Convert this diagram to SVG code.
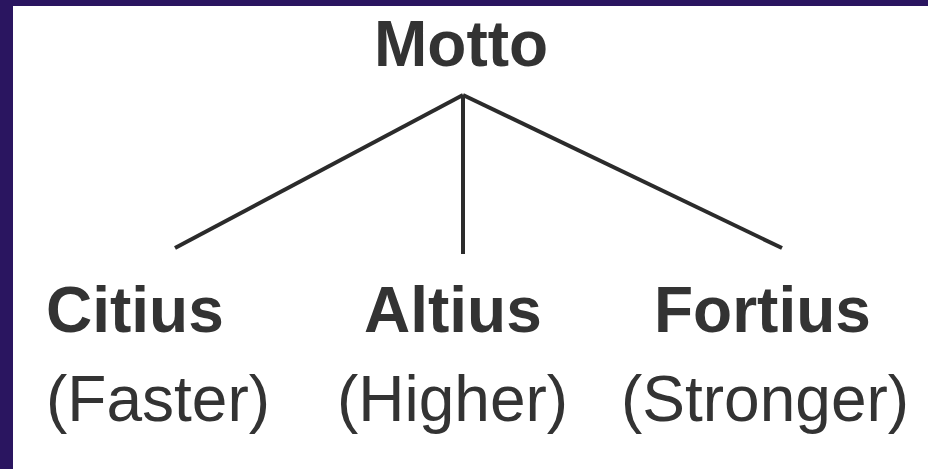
<svg xmlns="http://www.w3.org/2000/svg" width="928" height="469" viewBox="0 0 928 469">
<style>
.b{font-family:"Liberation Sans",Arial,sans-serif;font-weight:bold;font-size:64px;fill:#333333}
.r{font-family:"Liberation Sans",Arial,sans-serif;font-size:64px;fill:#333333}
.c{stroke:#2b2b2b;stroke-width:4;fill:none;stroke-linecap:butt}
</style>
<rect x="0" y="0" width="928" height="469" fill="#ffffff"/>
<rect x="0" y="0" width="928" height="6" fill="#2a1560"/>
<rect x="0" y="0" width="13" height="469" fill="#2a1560"/>
<g id="connectors">
<line class="c" x1="463" y1="95" x2="175" y2="248"/>
<line class="c" x1="463" y1="95" x2="463" y2="254"/>
<line class="c" x1="463" y1="95" x2="782" y2="248"/>
</g>
<g id="motto"><text class="b" x="374" y="66" font-size="63">Motto</text></g>
<g id="citius"><text class="b" x="46" y="332">Citius</text><text class="r" x="46" y="421">(Faster)</text></g>
<g id="altius"><text class="b" x="364" y="332">Altius</text><text class="r" x="337" y="421">(Higher)</text></g>
<g id="fortius"><text class="b" x="654" y="332" font-size="65">Fortius</text><text class="r" x="621" y="421" font-size="65">(Stronger)</text></g>
</svg>
